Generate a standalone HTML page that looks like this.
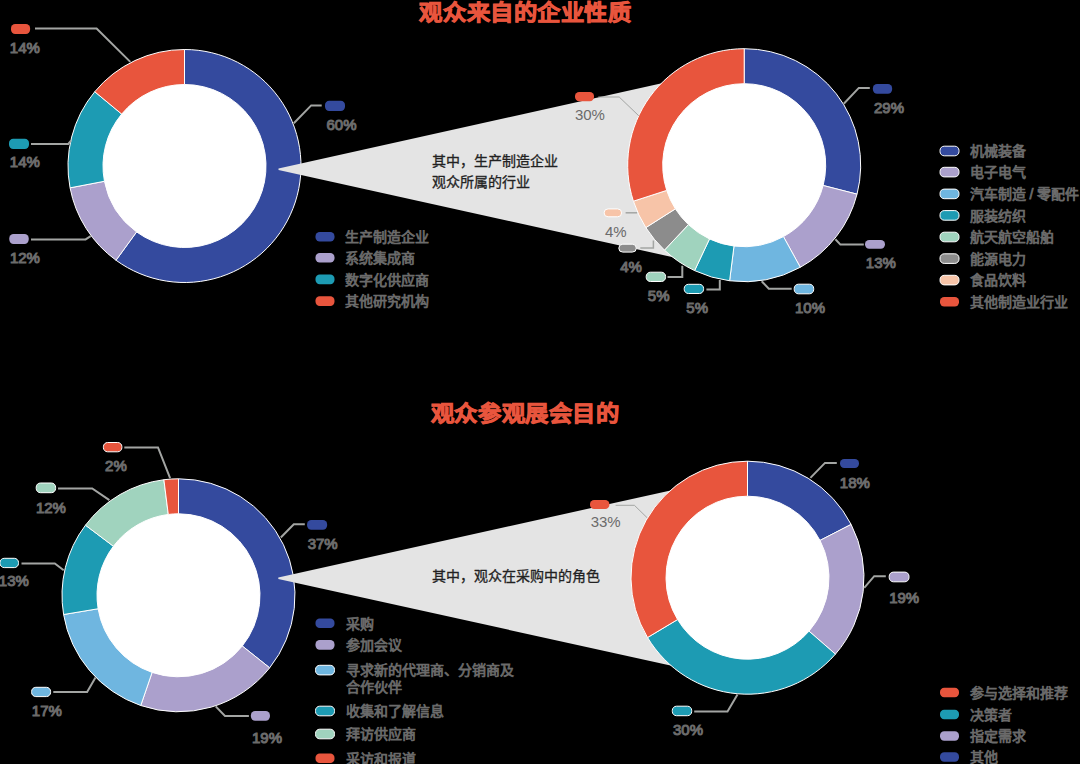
<!DOCTYPE html>
<html lang="zh-CN"><head><meta charset="utf-8"><style>
html,body{margin:0;padding:0;background:#000;width:1080px;height:764px;overflow:hidden}
svg{display:block;font-family:"Liberation Sans",sans-serif}
</style></head><body>
<svg width="1080" height="764" viewBox="0 0 1080 764">
<circle cx="184.5" cy="166.0" r="83.0" fill="#fff"/>
<path d="M184.50,49.50A116.5,116.5 0 1 1 116.02,260.25L136.60,231.93A81.5,81.5 0 1 0 184.50,84.50Z" fill="#344a9e" stroke="#fff" stroke-width="1" stroke-linejoin="round"/>
<path d="M116.02,260.25A116.5,116.5 0 0 1 70.06,187.83L104.44,181.27A81.5,81.5 0 0 0 136.60,231.93Z" fill="#aba0cc" stroke="#fff" stroke-width="1" stroke-linejoin="round"/>
<path d="M70.06,187.83A116.5,116.5 0 0 1 94.74,91.74L121.70,114.05A81.5,81.5 0 0 0 104.44,181.27Z" fill="#1d9bb3" stroke="#fff" stroke-width="1" stroke-linejoin="round"/>
<path d="M94.74,91.74A116.5,116.5 0 0 1 184.50,49.50L184.50,84.50A81.5,81.5 0 0 0 121.70,114.05Z" fill="#e8553d" stroke="#fff" stroke-width="1" stroke-linejoin="round"/>
<circle cx="184.5" cy="166.0" r="81.0" fill="#fff"/>
<polygon points="278.5,168.6 700.0,74.7 700.0,263.2 278.5,170.0" fill="#e4e4e4"/>
<circle cx="744.2" cy="165.2" r="83.0" fill="#fff"/>
<path d="M744.20,48.70A116.5,116.5 0 0 1 857.04,194.17L823.14,185.47A81.5,81.5 0 0 0 744.20,83.70Z" fill="#344a9e" stroke="#fff" stroke-width="1" stroke-linejoin="round"/>
<path d="M857.04,194.17A116.5,116.5 0 0 1 800.32,267.29L783.46,236.62A81.5,81.5 0 0 0 823.14,185.47Z" fill="#aba0cc" stroke="#fff" stroke-width="1" stroke-linejoin="round"/>
<path d="M800.32,267.29A116.5,116.5 0 0 1 729.60,280.78L733.99,246.06A81.5,81.5 0 0 0 783.46,236.62Z" fill="#6fb6e0" stroke="#fff" stroke-width="1" stroke-linejoin="round"/>
<path d="M729.60,280.78A116.5,116.5 0 0 1 694.60,270.61L709.50,238.94A81.5,81.5 0 0 0 733.99,246.06Z" fill="#1d9bb3" stroke="#fff" stroke-width="1" stroke-linejoin="round"/>
<path d="M694.60,270.61A116.5,116.5 0 0 1 664.45,250.12L688.41,224.61A81.5,81.5 0 0 0 709.50,238.94Z" fill="#a0d3be" stroke="#fff" stroke-width="1" stroke-linejoin="round"/>
<path d="M664.45,250.12A116.5,116.5 0 0 1 645.84,227.62L675.39,208.87A81.5,81.5 0 0 0 688.41,224.61Z" fill="#8c8c8c" stroke="#fff" stroke-width="1" stroke-linejoin="round"/>
<path d="M645.84,227.62A116.5,116.5 0 0 1 633.40,201.20L666.69,190.38A81.5,81.5 0 0 0 675.39,208.87Z" fill="#f7c4a8" stroke="#fff" stroke-width="1" stroke-linejoin="round"/>
<path d="M633.40,201.20A116.5,116.5 0 0 1 744.20,48.70L744.20,83.70A81.5,81.5 0 0 0 666.69,190.38Z" fill="#e8553d" stroke="#fff" stroke-width="1" stroke-linejoin="round"/>
<circle cx="744.2" cy="165.2" r="81.0" fill="#fff"/>
<circle cx="178.5" cy="595.3" r="83.0" fill="#fff"/>
<path d="M178.50,478.80A116.5,116.5 0 0 1 269.67,667.82L242.28,646.03A81.5,81.5 0 0 0 178.50,513.80Z" fill="#344a9e" stroke="#fff" stroke-width="1" stroke-linejoin="round"/>
<path d="M269.67,667.82A116.5,116.5 0 0 1 140.76,705.52L152.10,672.41A81.5,81.5 0 0 0 242.28,646.03Z" fill="#aba0cc" stroke="#fff" stroke-width="1" stroke-linejoin="round"/>
<path d="M140.76,705.52A116.5,116.5 0 0 1 63.60,614.53L98.12,608.75A81.5,81.5 0 0 0 152.10,672.41Z" fill="#6fb6e0" stroke="#fff" stroke-width="1" stroke-linejoin="round"/>
<path d="M63.60,614.53A116.5,116.5 0 0 1 85.46,525.19L113.41,546.25A81.5,81.5 0 0 0 98.12,608.75Z" fill="#1d9bb3" stroke="#fff" stroke-width="1" stroke-linejoin="round"/>
<path d="M85.46,525.19A116.5,116.5 0 0 1 163.90,479.72L168.29,514.44A81.5,81.5 0 0 0 113.41,546.25Z" fill="#a0d3be" stroke="#fff" stroke-width="1" stroke-linejoin="round"/>
<path d="M163.90,479.72A116.5,116.5 0 0 1 178.50,478.80L178.50,513.80A81.5,81.5 0 0 0 168.29,514.44Z" fill="#e8553d" stroke="#fff" stroke-width="1" stroke-linejoin="round"/>
<circle cx="178.5" cy="595.3" r="81.0" fill="#fff"/>
<polygon points="278.3,577.4 700.0,483.9 700.0,672.0 278.3,579.0" fill="#e4e4e4"/>
<circle cx="747.5" cy="577.7" r="83.0" fill="#fff"/>
<path d="M747.50,461.20A116.5,116.5 0 0 1 851.12,524.45L819.99,540.45A81.5,81.5 0 0 0 747.50,496.20Z" fill="#344a9e" stroke="#fff" stroke-width="1" stroke-linejoin="round"/>
<path d="M851.12,524.45A116.5,116.5 0 0 1 835.42,654.13L809.01,631.17A81.5,81.5 0 0 0 819.99,540.45Z" fill="#aba0cc" stroke="#fff" stroke-width="1" stroke-linejoin="round"/>
<path d="M835.42,654.13A116.5,116.5 0 0 1 647.54,637.53L677.57,619.55A81.5,81.5 0 0 0 809.01,631.17Z" fill="#1d9bb3" stroke="#fff" stroke-width="1" stroke-linejoin="round"/>
<path d="M647.54,637.53A116.5,116.5 0 0 1 747.50,461.20L747.50,496.20A81.5,81.5 0 0 0 677.57,619.55Z" fill="#e8553d" stroke="#fff" stroke-width="1" stroke-linejoin="round"/>
<circle cx="747.5" cy="577.7" r="81.0" fill="#fff"/>
<polyline points="35.0,28.5 96.6,28.5 130.3,61.9" fill="none" stroke="#a3a5a3" stroke-width="2" stroke-linejoin="miter"/>
<rect x="11.0" y="24.0" width="19.1" height="10.0" rx="4.2" fill="#e8553d"/>
<text x="9.8" y="52.9" font-size="15.0" fill="#6b6b6b" stroke="#6b6b6b" stroke-width="1.0">14%</text>
<polyline points="31.0,143.9 68.3,143.9 71.0,140.5" fill="none" stroke="#a3a5a3" stroke-width="2" stroke-linejoin="miter"/>
<rect x="9.0" y="138.8" width="20.0" height="10.1" rx="4.2" fill="#1d9bb3"/>
<text x="9.8" y="167.4" font-size="15.0" fill="#6b6b6b" stroke="#6b6b6b" stroke-width="1.0">14%</text>
<polyline points="31.0,239.4 85.6,239.4 90.7,236.2" fill="none" stroke="#a3a5a3" stroke-width="2" stroke-linejoin="miter"/>
<rect x="9.3" y="234.1" width="19.4" height="9.8" rx="4.2" fill="#aba0cc"/>
<text x="9.9" y="262.5" font-size="15.0" fill="#6b6b6b" stroke="#6b6b6b" stroke-width="1.0">12%</text>
<polyline points="293.8,123.3 311.2,105.4 321.7,105.4" fill="none" stroke="#a3a5a3" stroke-width="2" stroke-linejoin="miter"/>
<rect x="325.0" y="100.8" width="20.0" height="10.2" rx="4.2" fill="#344a9e"/>
<text x="326.5" y="129.7" font-size="15.0" fill="#6b6b6b" stroke="#6b6b6b" stroke-width="1.0">60%</text>
<polyline points="598.3,97.0 619.2,97.0 638.8,115.8" fill="none" stroke="#a3a5a3" stroke-width="1" stroke-linejoin="miter"/>
<rect x="575.0" y="91.9" width="19.0" height="9.3" rx="4.2" fill="#e8553d"/>
<text x="574.9" y="120.0" font-size="15.0" fill="#6b6b6b">30%</text>
<polyline points="843.8,103.8 858.8,87.9 869.8,87.9" fill="none" stroke="#a3a5a3" stroke-width="2" stroke-linejoin="miter"/>
<rect x="872.9" y="84.0" width="19.2" height="9.8" rx="4.2" fill="#344a9e"/>
<text x="874.0" y="112.5" font-size="15.0" fill="#6b6b6b" stroke="#6b6b6b" stroke-width="1.0">29%</text>
<polyline points="835.4,239.2 840.4,244.6 863.8,244.6" fill="none" stroke="#a3a5a3" stroke-width="2" stroke-linejoin="miter"/>
<rect x="865.0" y="240.0" width="20.0" height="8.8" rx="4.2" fill="#aba0cc"/>
<text x="865.8" y="268.0" font-size="15.0" fill="#6b6b6b" stroke="#6b6b6b" stroke-width="1.0">13%</text>
<polyline points="761.7,281.2 768.8,288.8 791.7,288.8" fill="none" stroke="#a3a5a3" stroke-width="2" stroke-linejoin="miter"/>
<rect x="794.2" y="284.2" width="19.5" height="9.6" rx="4.2" fill="#6fb6e0" stroke="#fff" stroke-width="1"/>
<text x="795.0" y="313.0" font-size="15.0" fill="#6b6b6b" stroke="#6b6b6b" stroke-width="1.0">10%</text>
<polyline points="719.8,280.1 719.8,289.4 706.4,289.4" fill="none" stroke="#a3a5a3" stroke-width="2" stroke-linejoin="miter"/>
<rect x="684.2" y="284.3" width="19.4" height="9.2" rx="4.2" fill="#1d9bb3" stroke="#fff" stroke-width="1"/>
<text x="686.3" y="312.8" font-size="15.0" fill="#6b6b6b" stroke="#6b6b6b" stroke-width="1.0">5%</text>
<polyline points="682.3,265.7 682.3,276.9 667.5,276.9" fill="none" stroke="#a3a5a3" stroke-width="2" stroke-linejoin="miter"/>
<rect x="646.2" y="272.2" width="19.4" height="9.3" rx="4.2" fill="#a0d3be" stroke="#fff" stroke-width="1"/>
<text x="647.8" y="300.8" font-size="15.0" fill="#6b6b6b" stroke="#6b6b6b" stroke-width="1.0">5%</text>
<polyline points="653.4,240.5 653.4,247.9 640.3,247.9" fill="none" stroke="#a3a5a3" stroke-width="1.5" stroke-linejoin="miter"/>
<rect x="618.8" y="244.2" width="17.5" height="7.9" rx="4.0" fill="#8c8c8c" stroke="#fff" stroke-width="1"/>
<text x="620.2" y="272.0" font-size="15.0" fill="#6b6b6b" stroke="#6b6b6b" stroke-width="1.0">4%</text>
<polyline points="625.6,212.8 637.1,212.8" fill="none" stroke="#a3a5a3" stroke-width="1.5" stroke-linejoin="miter"/>
<rect x="604.1" y="208.9" width="17.5" height="7.9" rx="4.0" fill="#f7c4a8" stroke="#fff" stroke-width="1"/>
<text x="604.9" y="236.5" font-size="15.0" fill="#6b6b6b">4%</text>
<polyline points="124.3,447.4 158.0,447.4 170.1,478.1" fill="none" stroke="#a3a5a3" stroke-width="2" stroke-linejoin="miter"/>
<rect x="103.4" y="442.5" width="18.5" height="9.3" rx="4.2" fill="#e8553d" stroke="#fff" stroke-width="1"/>
<text x="105.1" y="471.1" font-size="15.0" fill="#6b6b6b" stroke="#6b6b6b" stroke-width="1.0">2%</text>
<polyline points="58.0,488.5 92.2,488.5 109.4,500.1" fill="none" stroke="#a3a5a3" stroke-width="2" stroke-linejoin="miter"/>
<rect x="36.2" y="483.0" width="19.4" height="9.7" rx="4.2" fill="#a0d3be" stroke="#fff" stroke-width="1"/>
<text x="35.9" y="513.4" font-size="15.0" fill="#6b6b6b" stroke="#6b6b6b" stroke-width="1.0">12%</text>
<polyline points="21.5,563.4 54.8,563.4 63.7,570.2" fill="none" stroke="#a3a5a3" stroke-width="2" stroke-linejoin="miter"/>
<rect x="0.0" y="558.3" width="18.5" height="9.3" rx="4.2" fill="#1d9bb3" stroke="#fff" stroke-width="1"/>
<text x="-1.2" y="585.9" font-size="15.0" fill="#6b6b6b" stroke="#6b6b6b" stroke-width="1.0">13%</text>
<polyline points="53.3,691.9 87.1,691.9 95.5,677.6" fill="none" stroke="#a3a5a3" stroke-width="2" stroke-linejoin="miter"/>
<rect x="31.6" y="687.3" width="19.0" height="9.3" rx="4.2" fill="#6fb6e0" stroke="#fff" stroke-width="1"/>
<text x="31.8" y="715.9" font-size="15.0" fill="#6b6b6b" stroke="#6b6b6b" stroke-width="1.0">17%</text>
<polyline points="215.7,706.4 225.0,715.9 248.9,715.9" fill="none" stroke="#a3a5a3" stroke-width="2" stroke-linejoin="miter"/>
<rect x="250.9" y="711.0" width="19.0" height="9.7" rx="4.2" fill="#aba0cc"/>
<text x="252.0" y="742.8" font-size="15.0" fill="#6b6b6b" stroke="#6b6b6b" stroke-width="1.0">19%</text>
<polyline points="280.8,537.5 293.8,524.2 304.8,524.2" fill="none" stroke="#a3a5a3" stroke-width="2" stroke-linejoin="miter"/>
<rect x="307.1" y="520.0" width="20.0" height="9.8" rx="4.2" fill="#344a9e"/>
<text x="307.7" y="548.8" font-size="15.0" fill="#6b6b6b" stroke="#6b6b6b" stroke-width="1.0">37%</text>
<polyline points="615.6,505.3 634.4,505.3 647.2,517.8" fill="none" stroke="#a3a5a3" stroke-width="1" stroke-linejoin="miter"/>
<rect x="590.0" y="500.0" width="19.4" height="9.1" rx="4.2" fill="#e8553d"/>
<text x="590.7" y="527.4" font-size="15.0" fill="#6b6b6b">33%</text>
<polyline points="810.4,477.9 825.0,462.9 836.8,462.9" fill="none" stroke="#a3a5a3" stroke-width="2" stroke-linejoin="miter"/>
<rect x="840.0" y="459.0" width="19.0" height="8.9" rx="4.2" fill="#344a9e"/>
<text x="839.8" y="487.6" font-size="15.0" fill="#6b6b6b" stroke="#6b6b6b" stroke-width="1.0">18%</text>
<polyline points="864.2,587.9 874.2,576.2 885.8,576.2" fill="none" stroke="#a3a5a3" stroke-width="2" stroke-linejoin="miter"/>
<rect x="889.2" y="572.1" width="19.8" height="9.7" rx="4.2" fill="#aba0cc" stroke="#fff" stroke-width="1"/>
<text x="889.2" y="602.6" font-size="15.0" fill="#6b6b6b" stroke="#6b6b6b" stroke-width="1.0">19%</text>
<polyline points="737.5,694.6 727.5,711.5 694.2,711.5" fill="none" stroke="#a3a5a3" stroke-width="2" stroke-linejoin="miter"/>
<rect x="672.3" y="706.2" width="19.4" height="9.5" rx="4.2" fill="#1d9bb3" stroke="#fff" stroke-width="1"/>
<text x="673.0" y="734.7" font-size="15.0" fill="#6b6b6b" stroke="#6b6b6b" stroke-width="1.0">30%</text>
<rect x="315.5" y="232.0" width="19.0" height="9.6" rx="4.2" fill="#344a9e"/>
<text x="345" y="242.0" font-size="14" fill="#6b6b6b" stroke="#6b6b6b" stroke-width="0.75">生产制造企业</text>
<rect x="315.5" y="253.0" width="19.0" height="9.6" rx="4.2" fill="#aba0cc"/>
<text x="345" y="263.0" font-size="14" fill="#6b6b6b" stroke="#6b6b6b" stroke-width="0.75">系统集成商</text>
<rect x="315.5" y="274.6" width="19.0" height="9.6" rx="4.2" fill="#1d9bb3"/>
<text x="345" y="284.6" font-size="14" fill="#6b6b6b" stroke="#6b6b6b" stroke-width="0.75">数字化供应商</text>
<rect x="315.5" y="296.3" width="19.0" height="9.6" rx="4.2" fill="#e8553d"/>
<text x="345" y="306.3" font-size="14" fill="#6b6b6b" stroke="#6b6b6b" stroke-width="0.75">其他研究机构</text>
<rect x="940.0" y="146.2" width="19.0" height="9.6" rx="4.2" fill="#344a9e" stroke="#fff" stroke-width="1"/>
<text x="969.5" y="156.2" font-size="14" fill="#6b6b6b" stroke="#6b6b6b" stroke-width="0.75">机械装备</text>
<rect x="940.0" y="167.3" width="19.0" height="9.6" rx="4.2" fill="#aba0cc" stroke="#fff" stroke-width="1"/>
<text x="969.5" y="177.3" font-size="14" fill="#6b6b6b" stroke="#6b6b6b" stroke-width="0.75">电子电气</text>
<rect x="940.0" y="189.1" width="19.0" height="9.6" rx="4.2" fill="#6fb6e0" stroke="#fff" stroke-width="1"/>
<text x="969.5" y="199.1" font-size="14" fill="#6b6b6b" stroke="#6b6b6b" stroke-width="0.75">汽车制造 / 零配件</text>
<rect x="940.0" y="210.6" width="19.0" height="9.6" rx="4.2" fill="#1d9bb3" stroke="#fff" stroke-width="1"/>
<text x="969.5" y="220.6" font-size="14" fill="#6b6b6b" stroke="#6b6b6b" stroke-width="0.75">服装纺织</text>
<rect x="940.0" y="232.2" width="19.0" height="9.6" rx="4.2" fill="#a0d3be" stroke="#fff" stroke-width="1"/>
<text x="969.5" y="242.2" font-size="14" fill="#6b6b6b" stroke="#6b6b6b" stroke-width="0.75">航天航空船舶</text>
<rect x="940.0" y="253.8" width="19.0" height="9.6" rx="4.2" fill="#8c8c8c" stroke="#fff" stroke-width="1"/>
<text x="969.5" y="263.8" font-size="14" fill="#6b6b6b" stroke="#6b6b6b" stroke-width="0.75">能源电力</text>
<rect x="940.0" y="275.3" width="19.0" height="9.6" rx="4.2" fill="#f7c4a8" stroke="#fff" stroke-width="1"/>
<text x="969.5" y="285.3" font-size="14" fill="#6b6b6b" stroke="#6b6b6b" stroke-width="0.75">食品饮料</text>
<rect x="940.0" y="296.9" width="19.0" height="9.6" rx="4.2" fill="#e8553d"/>
<text x="969.5" y="306.9" font-size="14" fill="#6b6b6b" stroke="#6b6b6b" stroke-width="0.75">其他制造业行业</text>
<rect x="315.5" y="618.5" width="19.0" height="9.6" rx="4.2" fill="#344a9e"/>
<text x="345.5" y="628.5" font-size="14" fill="#6b6b6b" stroke="#6b6b6b" stroke-width="0.75">采购</text>
<rect x="315.5" y="640.1" width="19.0" height="9.6" rx="4.2" fill="#aba0cc"/>
<text x="345.5" y="650.1" font-size="14" fill="#6b6b6b" stroke="#6b6b6b" stroke-width="0.75">参加会议</text>
<rect x="315.5" y="665.3" width="19.0" height="9.6" rx="4.2" fill="#6fb6e0" stroke="#fff" stroke-width="1"/>
<text x="345.5" y="675.3" font-size="14" fill="#6b6b6b" stroke="#6b6b6b" stroke-width="0.75">寻求新的代理商、分销商及</text>
<text x="345.5" y="691.9" font-size="14" fill="#6b6b6b" stroke="#6b6b6b" stroke-width="0.75">合作伙伴</text>
<rect x="315.5" y="706.2" width="19.0" height="9.6" rx="4.2" fill="#1d9bb3" stroke="#fff" stroke-width="1"/>
<text x="345.5" y="716.2" font-size="14" fill="#6b6b6b" stroke="#6b6b6b" stroke-width="0.75">收集和了解信息</text>
<rect x="315.5" y="729.2" width="19.0" height="9.6" rx="4.2" fill="#a0d3be" stroke="#fff" stroke-width="1"/>
<text x="345.5" y="739.2" font-size="14" fill="#6b6b6b" stroke="#6b6b6b" stroke-width="0.75">拜访供应商</text>
<rect x="315.5" y="753.5" width="19.0" height="9.6" rx="4.2" fill="#e8553d"/>
<text x="345.5" y="763.5" font-size="14" fill="#6b6b6b" stroke="#6b6b6b" stroke-width="0.75">采访和报道</text>
<rect x="940.0" y="687.7" width="19.0" height="9.6" rx="4.2" fill="#e8553d"/>
<text x="969.5" y="697.7" font-size="14" fill="#6b6b6b" stroke="#6b6b6b" stroke-width="0.75">参与选择和推荐</text>
<rect x="940.0" y="709.7" width="19.0" height="9.6" rx="4.2" fill="#1d9bb3"/>
<text x="969.5" y="719.7" font-size="14" fill="#6b6b6b" stroke="#6b6b6b" stroke-width="0.75">决策者</text>
<rect x="940.0" y="731.2" width="19.0" height="9.6" rx="4.2" fill="#aba0cc"/>
<text x="969.5" y="741.2" font-size="14" fill="#6b6b6b" stroke="#6b6b6b" stroke-width="0.75">指定需求</text>
<rect x="940.0" y="752.2" width="19.0" height="9.6" rx="4.2" fill="#344a9e"/>
<text x="969.5" y="762.2" font-size="14" fill="#6b6b6b" stroke="#6b6b6b" stroke-width="0.75">其他</text>
<text transform="translate(0,0.5) scale(1,0.95)" x="525.5" y="20.5" font-size="23.3" font-weight="700" fill="#e8553d" stroke="#e8553d" stroke-width="0.9" text-anchor="middle">观众来自的企业性质</text>
<text transform="translate(0,401) scale(1,0.95) translate(0,-401)" x="525.2" y="421.8" font-size="23.3" font-weight="700" fill="#e8553d" stroke="#e8553d" stroke-width="0.9" text-anchor="middle">观众参观展会目的</text>
<text x="431.5" y="165.5" font-size="14" fill="#222" stroke="#222" stroke-width="0.3">其中，生产制造企业</text>
<text x="431.5" y="186.6" font-size="14" fill="#222" stroke="#222" stroke-width="0.3">观众所属的行业</text>
<text x="432" y="580.6" font-size="14" fill="#222" stroke="#222" stroke-width="0.3">其中，观众在采购中的角色</text>
</svg>
</body></html>
